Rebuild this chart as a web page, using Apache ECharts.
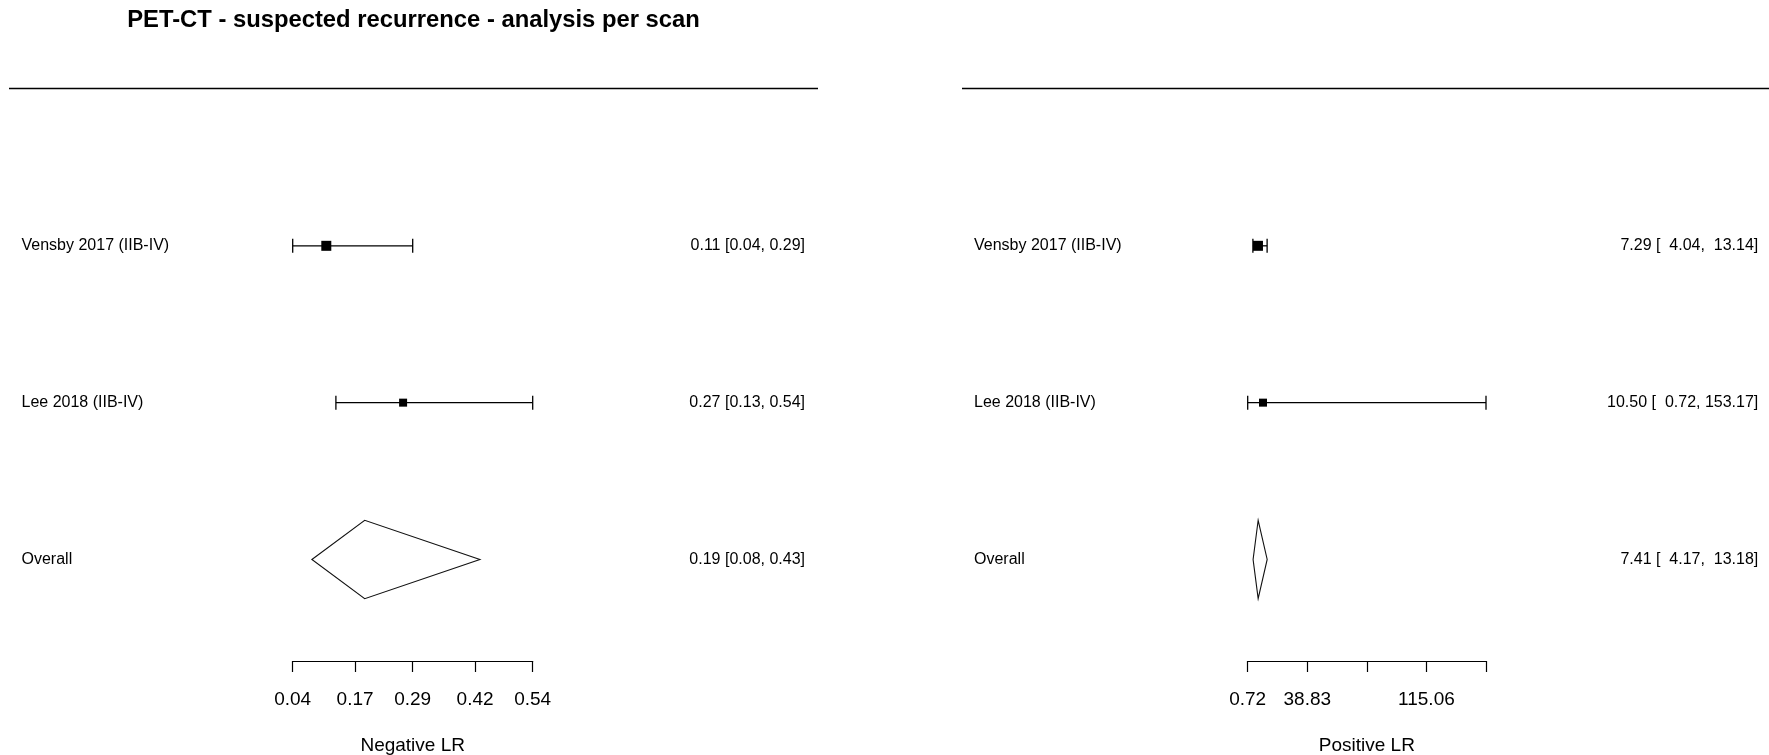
<!DOCTYPE html>
<html>
<head>
<meta charset="utf-8">
<script src="https://cdn.jsdelivr.net/npm/echarts@6/dist/echarts.min.js"></script>
<style>
  html, body { margin: 0; padding: 0; background: #fff; }
  #chart { width: 1769px; height: 755px; }
</style>
</head>
<body>
<div id="chart"></div>
<script>
// ---- data ----
const studies = ['Vensby 2017 (IIB-IV)', 'Lee 2018 (IIB-IV)', 'Overall'];
const rowKind = ['study', 'study', 'summary'];

// Negative likelihood ratio with 95% CI
const negEst = [0.11, 0.27, 0.19];
const negLo  = [0.04, 0.13, 0.08];
const negHi  = [0.29, 0.54, 0.43];

// Positive likelihood ratio with 95% CI
const posEst = [7.29, 10.50, 7.41];
const posLo  = [4.04, 0.72, 4.17];
const posHi  = [13.14, 153.17, 13.18];

// Axis ticks and their printed labels (blank = tick without label)
const negTicks      = [0.04, 0.17, 0.29, 0.42, 0.54];
const negTickLabels = ['0.04', '0.17', '0.29', '0.42', '0.54'];
const posTicks      = [0.72, 38.83, 76.94, 115.06, 153.17];
const posTickLabels = ['0.72', '38.83', '', '115.06', ''];

// ---- styling ----
const FONT = "'Liberation Sans', Arial, sans-serif";
const INK = '#000';
const SQUARE_PX = [10, 8];        // study square side, per study row
const CAP_HALF = 7;               // half height of whisker end caps
const GRID_TOP = 167.4;
const GRID_H = 470.5;
const AXIS_OFFSET = 23.1;

// "est [lo, hi]" with the bounds padded to a common width
function ciText(est, lo, hi) {
  const w = Math.max(...lo.concat(hi).map(v => v.toFixed(2).length));
  return est.map((e, i) =>
    e.toFixed(2) + ' [' + lo[i].toFixed(2).padStart(w) + ', ' + hi[i].toFixed(2).padStart(w) + ']');
}

function forestItem(params, api) {
  const i = params.dataIndex;
  const row = api.value(1);
  const c  = api.coord([api.value(0), row]);
  const pl = api.coord([api.value(2), row]);
  const ph = api.coord([api.value(3), row]);
  const band = api.size([0, 1])[1];
  if (rowKind[i] === 'summary') {
    const h = band * 0.25;
    return {
      type: 'polygon',
      shape: { points: [[pl[0], c[1]], [c[0], c[1] - h], [ph[0], c[1]], [c[0], c[1] + h]] },
      style: { fill: 'none', stroke: '#111', lineWidth: 1.1 }
    };
  }
  const s = SQUARE_PX[i];
  const lineStyle = { stroke: INK, lineWidth: 1.3 };
  return {
    type: 'group',
    children: [
      { type: 'line', shape: { x1: pl[0], y1: c[1], x2: ph[0], y2: c[1] }, style: lineStyle },
      { type: 'line', shape: { x1: pl[0], y1: c[1] - CAP_HALF, x2: pl[0], y2: c[1] + CAP_HALF }, style: lineStyle },
      { type: 'line', shape: { x1: ph[0], y1: c[1] - CAP_HALF, x2: ph[0], y2: c[1] + CAP_HALF }, style: lineStyle },
      { type: 'rect', shape: { x: c[0] - s / 2, y: c[1] - s / 2, width: s, height: s }, style: { fill: INK } }
    ]
  };
}

function xAxisFor(gridIndex, ticks, labels, name) {
  return {
    type: 'value', gridIndex, position: 'bottom',
    min: ticks[0], max: ticks[ticks.length - 1],
    offset: AXIS_OFFSET,
    splitLine: { show: false },
    axisLine: { show: true, onZero: false, lineStyle: { color: INK, width: 1.2 } },
    axisTick: { show: true, length: 11, customValues: ticks, lineStyle: { color: INK, width: 1.2 } },
    axisLabel: {
      customValues: ticks,
      formatter: v => {
        let k = 0;
        ticks.forEach((t, j) => { if (Math.abs(t - v) < Math.abs(ticks[k] - v)) k = j; });
        return labels[k];
      },
      hideOverlap: false,
      fontSize: 19, color: INK, fontFamily: FONT, margin: 29
    },
    name, nameLocation: 'middle', nameGap: 75,
    nameTextStyle: { fontSize: 19, color: INK, fontFamily: FONT }
  };
}

function yAxesFor(gridIndex, texts, leftMargin, rightMargin) {
  const base = {
    type: 'category', gridIndex, inverse: true,
    axisLine: { show: false }, axisTick: { show: false }, splitLine: { show: false }
  };
  return [
    Object.assign({}, base, {
      position: 'left', data: studies,
      axisLabel: { interval: 0, align: 'left', margin: leftMargin, fontSize: 16, color: INK, fontFamily: FONT }
    }),
    Object.assign({}, base, {
      position: 'right', data: texts,
      axisLabel: { interval: 0, align: 'right', margin: rightMargin, fontSize: 16, color: INK, fontFamily: FONT }
    })
  ];
}

const chart = echarts.init(document.getElementById('chart'), null, { renderer: 'canvas' });

chart.setOption({
  animation: false,
  backgroundColor: '#fff',
  grid: [
    { left: 292.7, width: 240, top: GRID_TOP, height: GRID_H, outerBoundsMode: 'none' },
    { left: 1247.7, width: 238.3, top: GRID_TOP, height: GRID_H, outerBoundsMode: 'none' }
  ],
  xAxis: [
    xAxisFor(0, negTicks, negTickLabels, 'Negative LR'),
    xAxisFor(1, posTicks, posTickLabels, 'Positive LR')
  ],
  yAxis: [
    ...yAxesFor(0, ciText(negEst, negLo, negHi), 271.2, 272.3),
    ...yAxesFor(1, ciText(posEst, posLo, posHi), 273.7, 272.3)
  ],
  graphic: [
    {
      type: 'text', x: 413.5, y: 20.5,
      style: {
        text: 'PET-CT - suspected recurrence - analysis per scan',
        font: 'bold 23.8px ' + FONT, fill: INK, align: 'center', verticalAlign: 'middle'
      }
    },
    { type: 'line', shape: { x1: 9, y1: 88.5, x2: 818, y2: 88.5 }, style: { stroke: INK, lineWidth: 1.5 } },
    { type: 'line', shape: { x1: 962, y1: 88.5, x2: 1769, y2: 88.5 }, style: { stroke: INK, lineWidth: 1.5 } }
  ],
  series: [
    {
      type: 'custom', xAxisIndex: 0, yAxisIndex: 0,
      renderItem: forestItem,
      encode: { x: 0, y: 1 },
      data: studies.map((_, i) => [negEst[i], i, negLo[i], negHi[i]])
    },
    {
      type: 'custom', xAxisIndex: 1, yAxisIndex: 2,
      renderItem: forestItem,
      encode: { x: 0, y: 1 },
      data: studies.map((_, i) => [posEst[i], i, posLo[i], posHi[i]])
    }
  ]
});
</script>
</body>
</html>
